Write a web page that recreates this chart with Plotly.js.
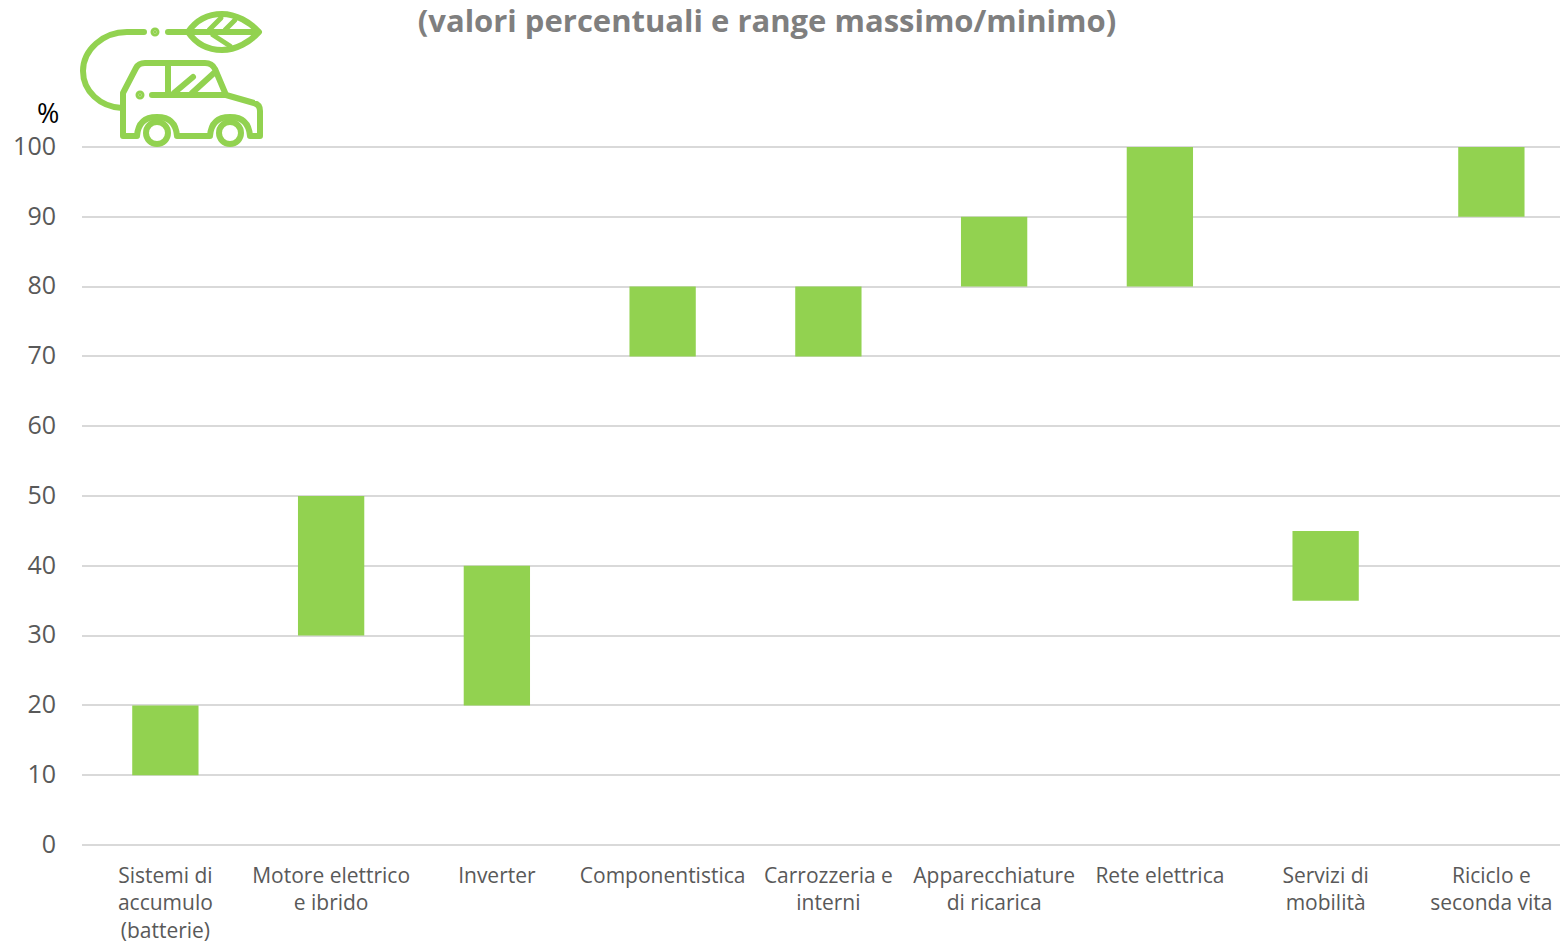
<!DOCTYPE html>
<html><head><meta charset="utf-8">
<script src="https://cdn.plot.ly/plotly-3.0.1.min.js"></script>
<style>html,body{margin:0;padding:0;background:#fff;overflow:hidden}#chart{width:1560px;height:945px}</style>
</head><body><div id="chart"></div>
<script>
const categories = ["Sistemi di<br>accumulo<br>(batterie)","Motore elettrico<br>e ibrido","Inverter","Componentistica","Carrozzeria e<br>interni","Apparecchiature<br>di ricarica","Rete elettrica","Servizi di<br>mobilità","Riciclo e<br>seconda vita"];
const minValues = [10,30,20,70,70,80,80,35,90];
const maxValues = [20,50,40,80,80,90,100,45,100];
const yTicks = [0,10,20,30,40,50,60,70,80,90,100];
const titleText = "(valori percentuali e range massimo/minimo)";
const unitText = "%";
const GREEN = "#92d250";
const FONT = "'Open Sans', sans-serif";

const icon = `<svg xmlns="http://www.w3.org/2000/svg" width="200" height="150" viewBox="0 0 200 150"><g transform="translate(-70,0)" fill="none" stroke="#92d250" stroke-width="6" stroke-linecap="round" stroke-linejoin="round">
<path d="M144 32H127C103 32 83 50 83 71C83 91 100 107 122 108"/>
<circle cx="155" cy="32" r="1.5" fill="#92d250"/>
<path d="M168 32H258"/>
<path d="M188 32C197 19 210 14 222 14C236 14 250 22 259 32C250 42 236 50 222 50C210 50 197 45 188 32Z"/>
<path d="M209 30L221 18M225 30L235 20M213 35L230 46" stroke-width="5"/>
<path d="M123 136V93L136 68C138 64 141 63 145 63H205C210 63 213 65 215 69L226 95L254 103C258 104 260 107 260 111V136H250C249 122 241 117 230 117C219 117 211 122 210 136H177C176 122 168 117 157 117C146 117 138 122 137 136Z"/>
<circle cx="157" cy="133" r="11"/><circle cx="230" cy="133" r="11"/>
<path d="M152 95H226M168 64V93M174 93L193 77M192 93L214 73"/>
<circle cx="140" cy="95" r="1.5" fill="#92d250"/></g></svg>`;

const px = (x) => (x - 82) / 1478;
const py = (y) => (852 - y) / 712;

Plotly.newPlot("chart", [{
  type: "bar",
  x: categories,
  y: maxValues.map((v, i) => v - minValues[i]),
  base: minValues,
  width: 0.4,
  marker: {color: GREEN, line: {width: 0}},
  hoverinfo: "skip"
}], {
  width: 1560, height: 945,
  margin: {l: 82, r: 0, t: 140, b: 93, pad: 0},
  paper_bgcolor: "#fff", plot_bgcolor: "#fff",
  showlegend: false,
  font: {family: FONT, color: "#595959"},
  title: {text: "<b>" + titleText + "</b>", x: 767/1560, xanchor: "center", y: 1 - 21/945, yanchor: "middle",
          font: {family: FONT, size: 31, color: "#7f7f7f"}},
  xaxis: {type: "category", range: [-0.503, 8.414], showgrid: false, zeroline: false, showline: false, ticks: "",
          tickfont: {family: FONT, size: 21, color: "#595959"}, tickangle: 0, automargin: false, ticklabelstandoff: 9},
  yaxis: {range: [-1, 101], tickmode: "array", tickvals: yTicks, ticktext: yTicks.map(String), gridcolor: "#d9d9d9", gridwidth: 2,
          zeroline: false, showline: false, ticks: "", ticklabelstandoff: 25, ticklabelshift: -1,
          tickfont: {family: FONT, size: 25, color: "#595959"}, automargin: false},
  annotations: [{text: unitText, xref: "paper", yref: "paper", x: px(47.5), y: py(113), xanchor: "center", yanchor: "middle", showarrow: false,
                 font: {family: FONT, size: 27, color: "#000"}}],
  images: [{source: "data:image/svg+xml;base64," + btoa(icon), xref: "paper", yref: "paper", x: px(70), y: py(0), sizex: 200/1478, sizey: 150/712,
            xanchor: "left", yanchor: "top", sizing: "stretch", layer: "above"}]
}, {staticPlot: true, displayModeBar: false});
</script></body></html>
